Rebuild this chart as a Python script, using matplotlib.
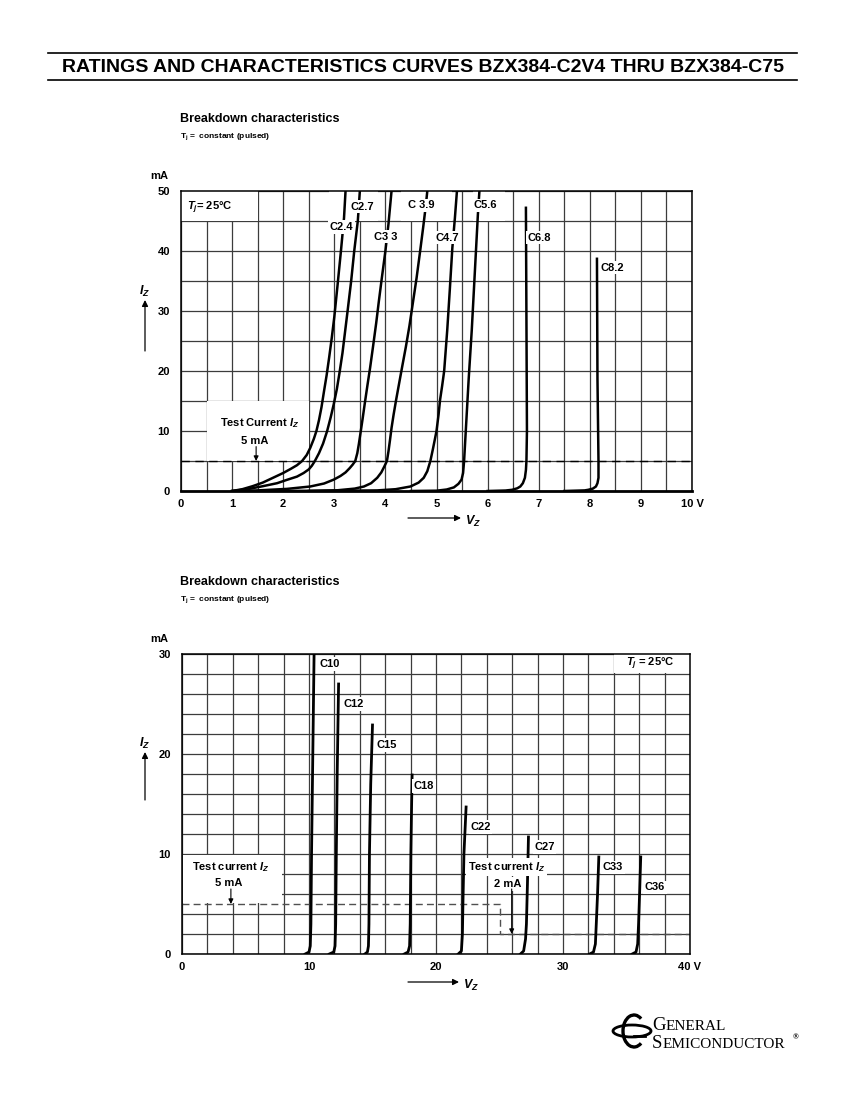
import numpy as np
import matplotlib.pyplot as plt
from matplotlib.patches import Rectangle, Ellipse, Arc
from matplotlib.lines import Line2D

plt.rcParams['font.family'] = ['Liberation Sans', 'DejaVu Sans']
plt.rcParams['font.weight'] = 'bold'
plt.rcParams['mathtext.fontset'] = 'custom'
plt.rcParams['mathtext.rm'] = 'Liberation Sans:bold'
plt.rcParams['mathtext.it'] = 'Liberation Sans:italic:bold'
plt.rcParams['mathtext.bf'] = 'Liberation Sans:bold'

# ---- chart 1 : C2V4 ... C8V2, Vz 0..10 V, Iz 0..50 mA
c24_v = [1.0, 1.2, 1.4, 1.6, 1.8, 2.0, 2.15, 2.27, 2.37, 2.46, 2.53, 2.6, 2.65, 2.7, 2.75,
         2.8, 2.85, 2.9, 2.95, 3.0, 3.06, 3.13, 3.19, 3.22]
c24_i = [0, 0.3, 0.8, 1.4, 2.2, 3.0, 3.7, 4.3, 5.0, 6.0, 7.2, 8.7, 10, 11.8, 14,
         16.7, 19.3, 22.3, 25.5, 29, 34, 40, 45.5, 50]
c27_v = [1.0, 1.3, 1.6, 1.88, 2.07, 2.27, 2.4, 2.5, 2.56, 2.62, 2.7, 2.78, 2.86, 2.93,
         2.99, 3.05, 3.1, 3.16, 3.21, 3.26, 3.33, 3.39, 3.46, 3.5]
c27_i = [0, 0.3, 0.8, 1.3, 1.85, 2.4, 3.0, 3.6, 4.2, 5.0, 6.3, 7.9, 10, 12.3,
         14.5, 17, 19.6, 23, 26.5, 30, 35, 40, 45, 50]
c33_v = [1.0, 1.5, 2.07, 2.53, 2.8, 2.99, 3.12, 3.22, 3.3, 3.36, 3.41, 3.45, 3.48, 3.51,
         3.55, 3.6, 3.65, 3.7, 3.76, 3.82, 3.87, 3.93, 4.0, 4.06, 4.12]
c33_i = [0, 0.1, 0.35, 0.75, 1.25, 1.9, 2.5, 3.1, 3.8, 4.4, 5.0, 6.3, 7.8, 9.5,
         11.8, 14.8, 17.7, 20.5, 24.2, 28, 31.5, 35.5, 40, 44.5, 50]
c39_v = [1.5, 2.5, 3.06, 3.4, 3.58, 3.72, 3.84, 3.92, 3.98, 4.03, 4.06, 4.09, 4.12, 4.16,
         4.21, 4.27, 4.33, 4.4, 4.47, 4.54, 4.61, 4.68, 4.74, 4.79, 4.82]
c39_i = [0, 0.03, 0.12, 0.4, 0.75, 1.3, 2.2, 3.1, 4.1, 5.0, 6.6, 8.5, 10.5, 12.7,
         15.2, 18, 20.8, 24, 27.5, 31.5, 35.5, 40, 44, 47.5, 50]
c47_v = [2.5, 3.84, 4.2, 4.49, 4.65, 4.75, 4.82, 4.88, 4.93, 4.97, 5.0, 5.04, 5.07, 5.11,
         5.15, 5.21, 5.26, 5.31, 5.36, 5.40]
c47_i = [0, 0.1, 0.3, 0.75, 1.4, 2.2, 3.3, 5.0, 7.0, 8.7, 10, 12.7, 15.2, 17.5,
         20, 26.8, 33.5, 40.5, 45.5, 50]
c56_v = [4.5, 5.0, 5.2, 5.34, 5.43, 5.49, 5.52, 5.54, 5.63, 5.69, 5.81, 5.84]
c56_i = [0, 0.05, 0.25, 0.6, 1.2, 1.9, 3.0, 5.0, 18.7, 26.8, 46.1, 50]
c68_v = [6.0, 6.35, 6.48, 6.58, 6.64, 6.69, 6.73, 6.75, 6.76, 6.77, 6.75]
c68_i = [0, 0.08, 0.2, 0.45, 0.75, 1.3, 2.2, 3.5, 5.0, 10, 47.2]
c82_v = [7.5, 7.9, 7.97, 8.06, 8.12, 8.15, 8.17, 8.17, 8.15, 8.14]
c82_i = [0, 0.1, 0.2, 0.4, 0.75, 1.3, 2.2, 5.0, 18.7, 38.7]

curves1 = [(c24_v, c24_i), (c27_v, c27_i), (c33_v, c33_i), (c39_v, c39_i),
           (c47_v, c47_i), (c56_v, c56_i), (c68_v, c68_i), (c82_v, c82_i)]
labels1 = ['C2.4', 'C2.7', 'C3 3', 'C 3.9', 'C4.7', 'C5.6', 'C6.8', 'C8.2']
label1_x = [3.14, 3.55, 4.01, 4.70, 5.21, 5.96, 7.01, 8.45]
label1_y = [44.0, 47.4, 42.4, 47.6, 42.2, 47.6, 42.2, 37.2]
xticks1 = [0, 1, 2, 3, 4, 5, 6, 7, 8, 9, 10]
xticklabels1 = ['0', '1', '2', '3', '4', '5', '6', '7', '8', '9', '10 V']
yticks1 = [0, 10, 20, 30, 40, 50]

# ---- chart 2 : C10 ... C36, Vz 0..40 V, Iz 0..30 mA
c10_v = [9.7, 10.0, 10.1, 10.15, 10.2, 10.3, 10.4]
c10_i = [0, 0.2, 0.8, 3, 10, 20, 30]
c12_v = [11.6, 11.95, 12.05, 12.1, 12.15, 12.22, 12.33]
c12_i = [0, 0.2, 0.8, 3, 10, 18, 27]
c15_v = [14.4, 14.6, 14.68, 14.72, 14.76, 14.86, 15.0]
c15_i = [0, 0.2, 0.8, 3, 10, 17, 22.9]
c18_v = [17.5, 17.8, 17.92, 17.97, 18.02, 18.08, 18.12]
c18_i = [0, 0.2, 0.8, 3, 10, 15, 17.9]
c22_v = [21.75, 22.0, 22.08, 22.12, 22.2, 22.37]
c22_i = [0, 0.3, 2, 5, 10, 14.7]
c27b_v = [26.65, 26.9, 27.05, 27.12, 27.2, 27.28]
c27b_i = [0, 0.3, 1.5, 3, 7, 11.7]
c33b_v = [32.1, 32.4, 32.55, 32.62, 32.72, 32.82]
c33b_i = [0, 0.2, 1, 3, 6, 9.7]
c36_v = [35.45, 35.75, 35.88, 35.95, 36.03, 36.12]
c36_i = [0, 0.2, 1, 3, 6, 9.7]

curves2 = [(c10_v, c10_i), (c12_v, c12_i), (c15_v, c15_i), (c18_v, c18_i),
           (c22_v, c22_i), (c27b_v, c27b_i), (c33b_v, c33b_i), (c36_v, c36_i)]
labels2 = ['C10', 'C12', 'C15', 'C18', 'C22', 'C27', 'C33', 'C36']
label2_x = [10.8, 12.7, 15.35, 18.25, 22.7, 27.73, 33.13, 36.43]
label2_y = [29.0, 25.0, 20.9, 16.8, 12.7, 10.7, 8.65, 6.65]
xticks2 = [0, 10, 20, 30, 40]
xticklabels2 = ['0', '10', '20', '30', '40 V']
yticks2 = [0, 10, 20, 30]
test2_x = [0, 25, 25, 40]
test2_y = [5, 5, 2, 2]

W, H = 851, 1101
fig = plt.figure(figsize=(W / 100, H / 100), dpi=100)


def fx(px):
    return px / W


def fy(py):
    return 1 - py / H


def setup(ax, xmax, ymax, xstep, ystep, xt, xtl, yt):
    ax.set_xlim(0, xmax)
    ax.set_ylim(0, ymax)
    ax.set_xticks(xt)
    ax.set_xticklabels(xtl)
    ax.set_xticks(np.arange(0, xmax + 0.001, xstep), minor=True)
    ax.set_yticks(yt)
    ax.set_yticks(np.arange(0, ymax + 0.001, ystep), minor=True)
    ax.tick_params(which='both', length=0, labelsize=8)
    ax.tick_params(axis='y', pad=8)
    ax.tick_params(axis='x', pad=6)
    ax.grid(which='both', color='#3c3c3c', lw=0.9)
    ax.set_axisbelow(True)
    for s in ax.spines.values():
        s.set_linewidth(1.1)


def white_box(ax, x0, y0, x1, y1):
    ax.add_patch(Rectangle((x0, y0), x1 - x0, y1 - y0, fc='white', ec='none', zorder=1))


def fig_arrow(x0, y0, x1, y1):
    fig.axes[0].annotate('', xy=(x1, H - y1), xytext=(x0, H - y0),
                         xycoords='figure pixels', textcoords='figure pixels',
                         arrowprops=dict(arrowstyle='-|>', color='k', lw=0.9,
                                         mutation_scale=9, shrinkA=0, shrinkB=0),
                         annotation_clip=False)


lab_box = dict(boxstyle='square,pad=0.15', fc='white', ec='none')

# ---------------- header
fig.text(fx(423), fy(67), 'RATINGS AND CHARACTERISTICS CURVES BZX384-C2V4 THRU BZX384-C75',
         ha='center', va='center', fontsize=14)
for yy in (53, 80):
    fig.add_artist(Line2D([fx(48), fx(797)], [fy(yy), fy(yy)], color='k', lw=1.2,
                          transform=fig.transFigure))

# ---------------- chart 1
ax1 = fig.add_axes([fx(181), fy(491), 511 / W, 300 / H])
setup(ax1, 10, 50, 0.5, 5, xticks1, xticklabels1, yticks1)
ax1.spines['bottom'].set_linewidth(2.0)

white_box(ax1, 0.5, 5, 2.5, 15)
white_box(ax1, 0, 45, 1.5, 50)
white_box(ax1, 2.9, 45, 3.85, 50)
white_box(ax1, 4.3, 45, 5.3, 50)
white_box(ax1, 5.72, 45, 6.35, 50)

for v, i in curves1:
    ax1.plot(v, i, color='k', lw=1.8, solid_joinstyle='round', zorder=3)
ax1.axhline(5, color='k', lw=1.0, ls=(0, (6, 4)), zorder=2.5)

for s, x, y in zip(labels1, label1_x, label1_y):
    ax1.text(x, y, s, ha='center', va='center', fontsize=8, bbox=lab_box, zorder=5)
ax1.text(0.12, 47.2, r'$T_j$= 25°C', ha='left', va='center', fontsize=8, zorder=5)
ax1.text(1.53, 11.3, r'Test Current $I_Z$', ha='center', va='center', fontsize=8, zorder=5)
ax1.text(1.45, 8.4, '5 mA', ha='center', va='center', fontsize=8, zorder=5)
ax1.annotate('', xy=(1.47, 5.0), xytext=(1.47, 7.4),
             arrowprops=dict(arrowstyle='-|>', color='k', lw=0.8, mutation_scale=7,
                             shrinkA=0, shrinkB=0), zorder=5)

fig.text(fx(180), fy(119), 'Breakdown characteristics', ha='left', va='center', fontsize=9)
fig.text(fx(180), fy(137), r'T$_\mathrm{j}$ =  constant (pulsed)', ha='left', va='center', fontsize=6)
fig.text(fx(168), fy(176), 'mA', ha='right', va='center', fontsize=8)
fig.text(fx(145), fy(291), r'$I_Z$', ha='center', va='center', fontsize=9)
fig_arrow(145, 351, 145, 300)
fig_arrow(408, 518, 461, 518)
fig.text(fx(465), fy(521), r'$V_Z$', ha='left', va='center', fontsize=9)

# ---------------- chart 2
ax2 = fig.add_axes([fx(182), fy(954), 508 / W, 300 / H])
setup(ax2, 40, 30, 2, 2, xticks2, xticklabels2, yticks2)

white_box(ax2, 0.1, 5.1, 7.9, 9.9)
white_box(ax2, 34.05, 28.1, 40, 30)

for v, i in curves2:
    ax2.plot(v, i, color='k', lw=2.0, solid_joinstyle='round', zorder=3)
ax2.plot(test2_x, test2_y, color='#505050', lw=1.0, ls=(0, (5, 3)), zorder=2.5)

for s, x, y in zip(labels2, label2_x, label2_y):
    ax2.text(x, y, s, ha='left', va='center', fontsize=8, bbox=lab_box, zorder=5)
ax2.text(34.98, 29.0, r'$T_j$ = 25°C', ha='left', va='center', fontsize=8, zorder=5)
ax2.text(3.8, 8.7, r'Test current $I_Z$', ha='center', va='center', fontsize=8, zorder=5)
ax2.text(3.7, 7.1, '5 mA', ha='center', va='center', fontsize=8, zorder=5)
ax2.annotate('', xy=(3.85, 5.0), xytext=(3.85, 6.5),
             arrowprops=dict(arrowstyle='-|>', color='k', lw=0.8, mutation_scale=7,
                             shrinkA=0, shrinkB=0), zorder=5)
ax2.text(25.55, 8.7, r'Test current $I_Z$', ha='center', va='center', fontsize=8,
         bbox=lab_box, zorder=4)
ax2.text(25.67, 7.0, '2 mA', ha='center', va='center', fontsize=8, bbox=lab_box, zorder=4)
ax2.annotate('', xy=(25.96, 2.0), xytext=(25.96, 6.5),
             arrowprops=dict(arrowstyle='-|>', color='k', lw=0.8, mutation_scale=7,
                             shrinkA=0, shrinkB=0), zorder=5)

fig.text(fx(180), fy(582), 'Breakdown characteristics', ha='left', va='center', fontsize=9)
fig.text(fx(180), fy(600), r'T$_\mathrm{j}$ =  constant (pulsed)', ha='left', va='center', fontsize=6)
fig.text(fx(168), fy(639), 'mA', ha='right', va='center', fontsize=8)
fig.text(fx(145), fy(743), r'$I_Z$', ha='center', va='center', fontsize=9)
fig_arrow(145, 800, 145, 752)
fig_arrow(408, 982, 459, 982)
fig.text(fx(463), fy(985), r'$V_Z$', ha='left', va='center', fontsize=9)

# ---------------- logo
rend = fig.canvas.get_renderer()


def small_caps(px, py, big, rest):
    t = fig.text(fx(px), fy(py), big, ha='left', va='baseline', fontsize=13.5,
                 family='Liberation Serif', weight='normal')
    bb = t.get_window_extent(rend)
    fig.text(bb.x1 / W, fy(py), rest, ha='left', va='baseline', fontsize=11,
             family='Liberation Serif', weight='normal')


small_caps(652, 1030, 'G', 'ENERAL')
small_caps(652, 1048, 'S', 'EMICONDUCTOR')
fig.text(fx(793), fy(1037), '®', ha='left', va='center', fontsize=5.5, family='Liberation Serif')

tr = fig.dpi_scale_trans
fig.add_artist(Ellipse((632 / 100, (H - 1031) / 100), 0.38, 0.12, fill=False, lw=2.0,
                       ec='k', transform=tr))
fig.add_artist(Arc((634 / 100, (H - 1031) / 100), 0.22, 0.32, theta1=60, theta2=300,
                   lw=2.4, color='k', transform=tr))
fig.add_artist(Line2D([634 / 100, 645 / 100], [(H - 1036) / 100, (H - 1036) / 100],
                      lw=2.0, color='k', transform=tr))

fig.savefig('out.png', dpi=100)
